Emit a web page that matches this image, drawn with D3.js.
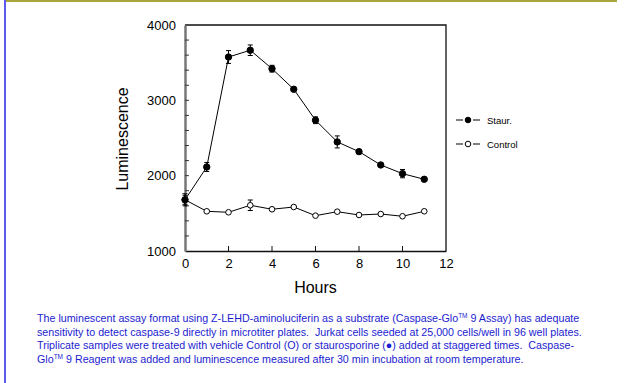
<!DOCTYPE html>
<html>
<head>
<meta charset="utf-8">
<script src="https://cdn.jsdelivr.net/npm/d3@7"></script>
<style>
  body { margin: 0; background: #fff; }
  svg { display: block; font-family: Arial, "Liberation Sans", sans-serif; }
</style>
</head>
<body>
<svg id="chart" width="629" height="383"></svg>
<script>
// data
const hours = [0, 1, 2, 3, 4, 5, 6, 7, 8, 9, 10, 11];
const staurMean = [1680, 2115, 3575, 3665, 3420, 3147, 2736, 2448, 2319, 2142, 2027, 1952];
const staurErr = [60, 60, 85, 70, 45, 15, 45, 80, 15, 20, 55, 15];
const controlMean = [1680, 1527, 1514, 1607, 1554, 1584, 1469, 1522, 1478, 1491, 1461, 1527];
const controlErr = [80, 10, 10, 70, 10, 10, 10, 10, 10, 10, 10, 10];
const xTicks = [0, 2, 4, 6, 8, 10, 12];
const yTicks = [1000, 2000, 3000, 4000];
const legendNames = ["Staur.", "Control"];
// "\u2122" marks a superscript TM
const captionLines = [
  "The luminescent assay format using Z-LEHD-aminoluciferin as a substrate (Caspase-Glo\u2122 9 Assay) has adequate",
  "sensitivity to detect caspase-9 directly in microtiter plates.  Jurkat cells seeded at 25,000 cells/well in 96 well plates.",
  "Triplicate samples were treated with vehicle Control (O) or staurosporine (\u25CF) added at staggered times.  Caspase-",
  "Glo\u2122 9 Reagent was added and luminescence measured after 30 min incubation at room temperature."
];

const svg = d3.select("#chart");

// page frame
svg.append("line").attr("x1", 4).attr("x2", 617).attr("y1", 1).attr("y2", 1)
  .attr("stroke", "#a9a640").attr("stroke-width", 2);
svg.append("line").attr("x1", 5).attr("x2", 5).attr("y1", 0).attr("y2", 383)
  .attr("stroke", "#5b5bf0").attr("stroke-width", 2);

const pL = 185, pR = 446, pT = 25, pB = 251;
const x = d3.scaleLinear().domain([0, 12]).range([pL, pR]);
const y = d3.scaleLinear().domain([1000, 4000]).range([pB, pT]);

// box (top/right)
svg.append("path")
  .attr("d", `M${pL},${pT}H${pR}V${pB}`)
  .attr("fill", "none").attr("stroke", "#111").attr("stroke-width", 1.3);

// x axis
const xg = svg.append("g").attr("transform", `translate(0,${pB})`)
  .call(d3.axisBottom(x).tickValues(xTicks).tickSize(0).tickPadding(8).tickFormat(d3.format("d")));
xg.select(".domain").attr("stroke", "#111").attr("stroke-width", 1.3);
xg.selectAll(".tick text").attr("font-size", 13).attr("fill", "#000").attr("font-family", "Arial, Liberation Sans, sans-serif");
svg.append("g").selectAll("line").data(xTicks.filter(d => d > 0 && d < 12)).join("line")
  .attr("x1", d => x(d)).attr("x2", d => x(d)).attr("y1", pB).attr("y2", pB - 5)
  .attr("stroke", "#111");

// y axis, minor ticks every 200
const yg = svg.append("g").attr("transform", `translate(${pL},0)`)
  .call(d3.axisLeft(y).tickValues(yTicks).tickSize(0).tickPadding(9).tickFormat(d3.format("d")));
yg.select(".domain").attr("stroke", "#777").attr("stroke-width", 2.5);
yg.selectAll(".tick text").attr("font-size", 13).attr("fill", "#000").attr("font-family", "Arial, Liberation Sans, sans-serif");
svg.append("g").selectAll("line").data(d3.range(1200, 4000, 200)).join("line")
  .attr("x1", pL).attr("x2", pL + 4).attr("y1", d => y(d)).attr("y2", d => y(d))
  .attr("stroke", "#333");

// axis titles
svg.append("text").attr("x", (pL + pR) / 2).attr("y", 293).attr("text-anchor", "middle")
  .attr("font-size", 16).text("Hours");
svg.append("text").attr("transform", `translate(128,${(pT + pB) / 2 + 1}) rotate(-90)`)
  .attr("text-anchor", "middle").attr("font-size", 16).text("Luminescence");

// series (control first so the shared 0 h point shows filled)
const series = [
  { name: legendNames[1], mean: controlMean, err: controlErr, fill: "#fff" },
  { name: legendNames[0], mean: staurMean, err: staurErr, fill: "#000" }
];
const line = d3.line().x(d => x(d[0])).y(d => y(d[1]));

series.forEach(s => {
  const pts = hours.map((h, i) => [h, s.mean[i], s.err[i]]);
  const g = svg.append("g");
  g.append("path").attr("d", line(pts)).attr("fill", "none").attr("stroke", "#000").attr("stroke-width", 1);
  const eb = g.selectAll("g.eb").data(pts.filter(p => p[2] > 25)).join("g");
  eb.append("line").attr("x1", d => x(d[0])).attr("x2", d => x(d[0]))
    .attr("y1", d => y(d[1] - d[2])).attr("y2", d => y(d[1] + d[2])).attr("stroke", "#000");
  eb.append("line").attr("x1", d => x(d[0]) - 2.5).attr("x2", d => x(d[0]) + 2.5)
    .attr("y1", d => y(d[1] - d[2])).attr("y2", d => y(d[1] - d[2])).attr("stroke", "#000");
  eb.append("line").attr("x1", d => x(d[0]) - 2.5).attr("x2", d => x(d[0]) + 2.5)
    .attr("y1", d => y(d[1] + d[2])).attr("y2", d => y(d[1] + d[2])).attr("stroke", "#000");
  g.selectAll("circle").data(pts).join("circle")
    .attr("cx", d => x(d[0])).attr("cy", d => y(d[1])).attr("r", s.fill === "#000" ? 3.2 : 2.8)
    .attr("fill", s.fill).attr("stroke", "#000").attr("stroke-width", 1);
});

// legend
[series[1], series[0]].forEach((s, i) => {
  const ly = 120 + i * 24;
  svg.append("line").attr("x1", 456).attr("x2", 463).attr("y1", ly).attr("y2", ly).attr("stroke", "#000");
  svg.append("line").attr("x1", 473).attr("x2", 480).attr("y1", ly).attr("y2", ly).attr("stroke", "#000");
  svg.append("circle").attr("cx", 468).attr("cy", ly).attr("r", 2.8)
    .attr("fill", s.fill).attr("stroke", "#000");
  svg.append("text").attr("x", 487).attr("y", ly + 3.5).attr("font-size", 9.5).text(s.name);
});

// caption
const cap = svg.append("g").attr("fill", "#1c1cd0").attr("font-size", 10.7)
  .style("white-space", "pre");
captionLines.forEach((ln, i) => {
  const t = cap.append("text").attr("x", 37).attr("y", 322 + i * 13.6).attr("xml:space", "preserve");
  ln.split("\u2122").forEach((part, j) => {
    if (j > 0) t.append("tspan").attr("dy", -4).attr("font-size", 6.5).text("TM");
    t.append("tspan").attr("dy", j > 0 ? 4 : 0).text(part);
  });
});
</script>
</body>
</html>
